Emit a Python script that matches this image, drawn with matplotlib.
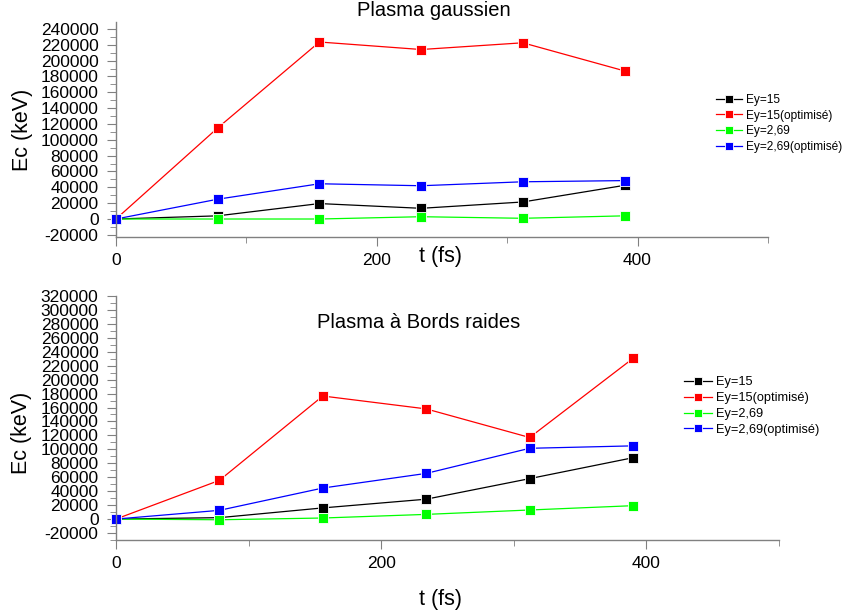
import matplotlib.pyplot as plt
from matplotlib.ticker import MultipleLocator

plt.rcParams["font.family"] = ["Liberation Sans", "DejaVu Sans"]
plt.rcParams["axes.unicode_minus"] = False

t_fs = [0, 78, 156, 234, 312, 390]
labels = ["Ey=15", "Ey=15(optimisé)", "Ey=2,69", "Ey=2,69(optimisé)"]
colors = ["#000000", "#ff0000", "#00ff00", "#0000ff"]

# Plasma gaussien
gauss_ey15 = [0, 4000, 19500, 13500, 21500, 42500]
gauss_ey15_opt = [0, 115000, 223500, 214000, 222500, 187000]
gauss_ey269 = [0, 0, 0, 2900, 900, 4000]
gauss_ey269_opt = [0, 25000, 44500, 42000, 47000, 48500]

# Plasma a bords raides
raide_ey15 = [0, 2000, 16000, 28500, 58000, 88000]
raide_ey15_opt = [0, 55500, 176500, 158000, 117000, 230500]
raide_ey269 = [0, -1000, 1500, 6700, 13000, 19200]
raide_ey269_opt = [0, 12500, 44500, 65500, 101500, 105000]

GREY = "#808080"


def style_axes(ax, ylim):
    ax.set_xlim(0, 500)
    ax.set_ylim(*ylim)
    for s in ("top", "right"):
        ax.spines[s].set_visible(False)
    for s in ("left", "bottom"):
        ax.spines[s].set_color(GREY)
        ax.spines[s].set_linewidth(1.0)
    ax.xaxis.set_major_locator(MultipleLocator(200))
    ax.xaxis.set_minor_locator(MultipleLocator(100))
    ax.yaxis.set_major_locator(MultipleLocator(20000))
    ax.yaxis.set_minor_locator(MultipleLocator(10000))
    ax.tick_params(which="both", direction="out", color=GREY, labelsize=12.5)
    ax.tick_params(which="major", length=6.5)
    ax.tick_params(which="minor", length=4)
    ax.tick_params(axis="y", pad=6)
    ax.tick_params(axis="x", pad=5)
    ax.set_ylabel("Ec (keV)", fontsize=15.5)


def draw(ax, series):
    for ys, c, lab in zip(series, colors, labels):
        ax.plot(t_fs, ys, color=c, lw=0.9, marker="s", ms=7.5,
                mec="white", mew=0.6, label=lab, clip_on=False)


fig = plt.figure(figsize=(8.44, 6.10), dpi=100)

ax1 = fig.add_axes([0.1374, 0.6115, 0.7725, 0.3525])
draw(ax1, [gauss_ey15, gauss_ey15_opt, gauss_ey269, gauss_ey269_opt])
style_axes(ax1, (-22700, 248800))
ax1.set_title("Plasma gaussien", fontsize=14.5, x=0.488, pad=4)
ax1.set_xlabel("t (fs)", fontsize=15.5)
ax1.xaxis.set_label_coords(0.497, -0.04)
ax1.yaxis.set_label_coords(-0.128, 0.5)
ax1.legend(loc="upper left", bbox_to_anchor=(0.848, 0.846),
           bbox_transform=fig.transFigure, frameon=False, fontsize=8.6,
           borderpad=0, borderaxespad=0, handlelength=2.2,
           handletextpad=0.3, labelspacing=0.3, markerscale=0.8)

ax2 = fig.add_axes([0.1374, 0.1148, 0.7855, 0.4])
draw(ax2, [raide_ey15, raide_ey15_opt, raide_ey269, raide_ey269_opt])
style_axes(ax2, (-30000, 320000))
ax2.text(0.457, 0.893, "Plasma à Bords raides", transform=ax2.transAxes,
         ha="center", va="center", fontsize=14.5)
ax2.set_xlabel("t (fs)", fontsize=15.5)
ax2.xaxis.set_label_coords(0.49, -0.2)
ax2.yaxis.set_label_coords(-0.126, 0.44)
ax2.legend(loc="upper left", bbox_to_anchor=(0.81, 0.383),
           bbox_transform=fig.transFigure, frameon=False, fontsize=9.2,
           borderpad=0, borderaxespad=0, handlelength=2.2,
           handletextpad=0.3, labelspacing=0.3, markerscale=0.8)

fig.savefig("out.png", dpi=100)
